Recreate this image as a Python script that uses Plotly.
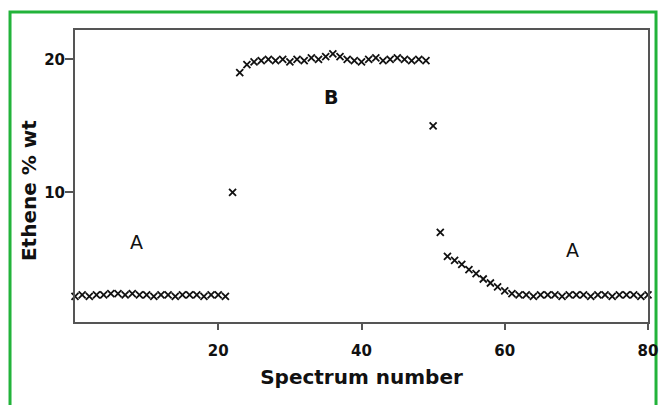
import plotly.graph_objects as go

# Spectrum number (x) and ethene content (y)
spectrum = list(range(0, 81))
ethene = [
    # 0-21 (region A)
    2.2, 2.3, 2.2, 2.3, 2.3, 2.4, 2.4, 2.3, 2.4, 2.3, 2.3,
    2.2, 2.3, 2.3, 2.2, 2.3, 2.3, 2.3, 2.2, 2.3, 2.3, 2.2,
    # 22-23 transition
    10.0, 19.0,
    # 24-49 (region B)
    19.6, 19.8, 19.9, 20.0, 19.9, 20.0, 19.8, 20.0, 19.9, 20.1,
    20.0, 20.2, 20.4, 20.2, 20.0, 19.9, 19.8, 20.0, 20.1, 19.9,
    20.0, 20.1, 20.0, 19.9, 20.0, 19.9,
    # 50-61 transition back
    15.0, 7.0, 5.2, 4.9, 4.6, 4.2, 3.9, 3.5, 3.2, 2.9, 2.6, 2.4,
    # 62-80 (region A)
    2.3, 2.3, 2.2, 2.3, 2.3, 2.3, 2.2, 2.3, 2.3, 2.3,
    2.2, 2.3, 2.3, 2.2, 2.3, 2.3, 2.3, 2.2, 2.3,
]

x_ticks = [20, 40, 60, 80]
y_ticks = [10, 20]

region_labels = ["A", "<b>B</b>", "A"]
region_x = [8.6, 35.8, 69.4]
region_y = [6.3, 17.2, 5.7]

FONT = "DejaVu Sans"

fig = go.Figure()
fig.add_trace(go.Scatter(
    x=spectrum, y=ethene, mode="markers",
    marker=dict(symbol="x-thin-open", size=7, color="#111",
                line=dict(width=1.8, color="#111")),
    cliponaxis=False, showlegend=False,
))

for lab, lx, ly in zip(region_labels, region_x, region_y):
    fig.add_annotation(x=lx, y=ly, text=lab, showarrow=False,
                       font=dict(family=FONT, size=19, color="#111"))

axis_common = dict(
    showgrid=False, zeroline=False, showline=True, mirror=True,
    linecolor="#555", linewidth=2, ticks="outside", tickcolor="#555",
    tickwidth=1.5,
    tickfont=dict(family=FONT, size=15, color="#111", weight="bold"),
    automargin=False,
)

fig.update_xaxes(
    range=[0, 80], tickvals=x_ticks, ticklen=6, ticklabelstandoff=8,
    title=dict(text="<b>Spectrum number</b>", standoff=11,
               font=dict(family=FONT, size=20, color="#111")),
    **axis_common,
)
fig.update_yaxes(
    range=[0.27, 22.2], tickvals=y_ticks, ticklen=8, ticklabelstandoff=-3,
    **axis_common,
)

# y-axis title, placed as in the reference (slightly below plot centre)
fig.add_annotation(xref="paper", yref="paper", x=-0.08, y=0.449,
                   text="<b>Ethene % wt</b>", textangle=-90, showarrow=False,
                   xanchor="center", yanchor="middle",
                   font=dict(family=FONT, size=20, color="#111"))

# green frame around the figure
fig.add_shape(type="rect", xref="paper", yref="paper",
              x0=-0.1134, x1=1.014, y0=-0.35, y1=1.0616,
              line=dict(color="#22b33a", width=3), layer="below")

fig.update_layout(
    width=660, height=405,
    margin=dict(l=75, r=12, t=30, b=83, autoexpand=False),
    plot_bgcolor="white", paper_bgcolor="white",
    font=dict(family=FONT),
)

fig.write_html("out.html")
